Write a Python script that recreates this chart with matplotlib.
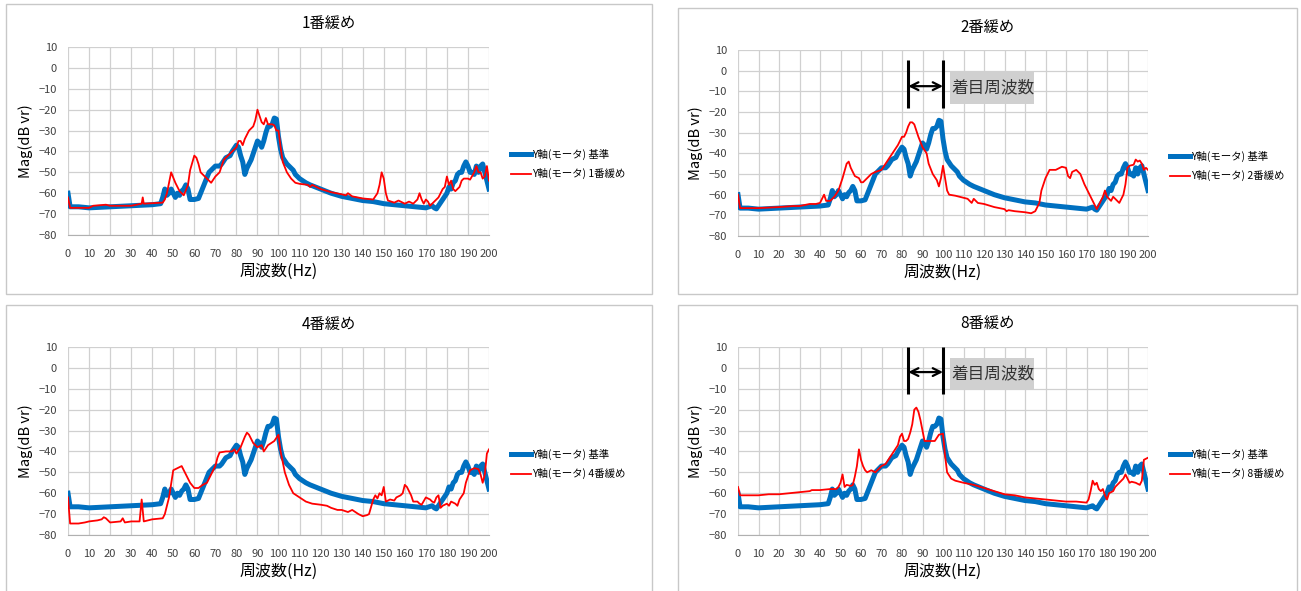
import matplotlib
matplotlib.use('Agg')
import matplotlib.pyplot as plt
from matplotlib.patches import Rectangle

plt.rcParams['font.family'] = ['Noto Sans CJK JP', 'DejaVu Sans']

# base line (same in every panel)
base_f = [0, 1, 5, 10, 20, 30, 40, 44, 45, 46, 47, 48, 49, 50, 51, 52, 53, 54, 55, 56, 57, 58, 60, 62, 63,
          65, 67, 68, 70, 72, 73, 75, 77, 78, 80, 81, 82, 83, 84, 85, 87, 88, 89, 90, 91, 92, 93, 94, 95, 96,
          97, 98, 99, 100, 101, 102, 104, 105, 106, 107, 108, 110, 113, 115, 120, 125, 130, 135, 140, 145,
          150, 155, 160, 165, 170, 173, 174, 175, 176, 178, 180, 181, 182, 183, 184, 185, 186, 187, 188, 189,
          190, 191, 192, 193, 194, 195, 196, 197, 198, 199, 200]
base_mag = [-60, -66.5, -66.5, -67, -66.5, -66, -65.5, -65, -62, -58, -61, -60, -58, -60, -62, -60, -61, -59, -58,
            -56, -58, -63, -63, -62.5, -60, -55, -50, -49, -47, -47, -46, -43, -42, -40, -37, -38, -42, -45, -51,
            -48, -44, -41, -38, -35, -36, -38, -35, -31, -28, -28, -27, -24, -24.5, -33, -39, -43, -46, -47, -48,
            -49, -51, -53, -55, -56, -58, -60, -61.5, -62.5, -63.5, -64, -65, -65.5, -66, -66.5, -67, -66, -67,
            -67.5, -66, -63, -60, -57, -58, -55, -54, -51, -50, -50, -47, -45, -47, -50, -50, -51, -47, -50, -47,
            -46, -50, -54, -58]

# 1番緩め
r1_f = [0, 1, 10, 12, 18, 20, 30, 35, 35.5, 36, 45, 46, 47, 49, 51, 53, 55, 57, 58, 60, 61, 62, 63, 65, 67, 68,
        70, 72, 73, 74, 76, 78, 79, 80, 81, 82, 83, 84, 85, 86, 88, 89, 90, 91, 92, 93, 94, 95, 97, 98, 99, 100,
        101, 102, 104, 106, 108, 110, 114, 115, 116, 120, 125, 130, 132, 133, 135, 140, 145, 147, 148, 149, 150,
        151, 152, 155, 157, 160, 162, 164, 166, 167, 168, 169, 170, 171, 172, 174, 176, 178, 179, 180, 181, 182,
        183, 184, 186, 187, 188, 190, 191, 193, 194, 195, 196, 197, 198, 199, 200]
r1_mag = [-62, -67, -67, -66, -65.5, -66, -66, -65, -62, -65, -64.5, -63, -60, -50, -55, -59, -61, -56, -49, -42,
          -43, -46, -50, -52, -54, -55, -52, -50, -47, -44, -42, -40, -39, -38, -35, -35, -37, -34, -32, -30, -28,
          -25, -20, -23, -26, -27, -24, -27, -27, -27.5, -30, -30, -38, -45, -50, -53, -55, -55.5, -56, -57, -56,
          -58, -59.5, -60.5, -61, -60, -61.5, -62.5, -63, -60, -56, -50, -53, -60, -63.5, -64.5, -63.5, -65, -64,
          -65, -63, -60, -63, -65, -63, -64, -66, -64, -62, -58, -57, -52, -56, -54, -58, -59, -57, -54, -53,
          -53, -53.5, -50, -47, -50, -50, -53, -52, -47, -54]

# 2番緩め
r2_f = [0, 1, 10, 20, 27, 30, 35, 38, 40, 41, 42, 43, 45, 47, 49, 51, 53, 54, 55, 57, 59, 60, 61, 63, 65, 67, 70,
        72, 74, 76, 78, 80, 81, 82, 83, 84, 85, 86, 88, 90, 92, 93, 95, 97, 98, 99, 100, 101, 102, 103, 106, 108,
        110, 112, 114, 115, 117, 120, 125, 130, 131, 132, 135, 140, 143, 145, 147, 148, 150, 152, 155, 157, 158,
        160, 161, 162, 163, 165, 167, 169, 171, 173, 175, 176, 178, 179, 180, 182, 183, 185, 186, 188, 189, 190,
        191, 193, 194, 195, 196, 197, 198, 199, 200]
r2_mag = [-60, -66.5, -66.5, -66, -65.5, -65.5, -64.5, -64.5, -64, -62, -60, -63, -63, -61, -58, -52, -45, -44, -47,
          -51, -52, -54, -54, -52, -50, -49, -48, -45, -42, -39, -36, -32, -32, -30, -27, -25, -25, -26, -32, -37,
          -40, -45, -50, -53, -56, -52, -46, -52, -58, -60, -60.5, -61, -61.5, -62, -64, -62, -64, -64.5, -66, -67,
          -68, -67.5, -68, -68.5, -69, -68, -64, -58, -52, -48, -48, -47, -46.5, -47, -51, -52, -49, -48, -50, -55,
          -59, -63, -67, -65, -61, -58, -61, -63, -61, -63, -64, -60, -55, -47, -46, -45.5, -43, -44, -43.5, -45,
          -48, -47, -48]

# 4番緩め
r4_f = [0, 1, 5, 8, 10, 14, 16, 17, 18, 20, 25, 26, 27, 30, 34, 35, 36, 40, 45, 46, 48, 50, 52, 54, 56, 58, 60, 62,
        64, 66, 68, 70, 71, 72, 75, 78, 79, 80, 82, 84, 85, 86, 88, 90, 92, 93, 95, 98, 100, 101, 103, 105, 107,
        110, 113, 116, 120, 123, 125, 128, 130, 133, 135, 138, 140, 142, 143, 145, 146, 147, 148, 149, 150, 151,
        153, 155, 156, 158, 159, 160, 161, 163, 164, 166, 167, 168, 170, 172, 173, 174, 175, 176, 177, 178, 180,
        181, 182, 184, 185, 186, 188, 189, 191, 193, 195, 196, 197, 198, 199, 200]
r4_mag = [-62, -74.5, -74.5, -74, -73.5, -73, -72.5, -71.5, -72, -74, -73.5, -72, -74, -73.5, -73.5, -63, -73.5,
          -72.5, -72, -70, -62, -49, -48, -47, -51, -55, -57.5, -57.5, -56, -55, -51, -47, -43, -40.5, -40, -40,
          -39, -41, -38, -33, -31, -32, -36, -38, -37, -40, -37, -35, -32, -40, -50, -56, -60, -62, -64, -65,
          -65.5, -66, -67, -68, -68, -69, -68, -70, -71, -70.5, -70, -63, -61, -62.5, -60, -61, -57, -64, -63,
          -63.5, -62, -61, -60, -56, -57, -61, -64, -64, -65, -65.5, -62, -63, -64, -64.5, -62, -61, -67, -66,
          -65, -66, -64, -65, -66, -63, -60, -55, -49, -48, -48.5, -51, -55, -51, -41, -39]

# 8番緩め
r8_f = [0, 1, 10, 15, 20, 25, 30, 35, 36, 40, 45, 48, 49, 50, 51, 52, 53, 55, 56, 57, 58, 59, 60, 61, 62, 63, 65,
        67, 70, 72, 74, 76, 78, 79, 80, 81, 82, 83, 84, 85, 86, 87, 88, 89, 90, 91, 92, 94, 96, 98, 100, 101, 102,
        104, 106, 110, 115, 120, 125, 130, 135, 140, 145, 150, 155, 160, 165, 170, 171, 172, 173, 174, 175, 176,
        177, 178, 179, 180, 181, 183, 184, 186, 188, 189, 190, 191, 192, 194, 195, 196, 197, 198, 199, 200]
r8_mag = [-57, -61, -61, -60.5, -60.5, -60, -59.5, -59, -58.5, -58.5, -58, -58, -57, -55, -51, -57, -56, -56.5, -56,
          -52, -47, -39, -44, -47, -49, -50, -49, -50, -47, -46, -43, -40, -37, -33, -31.5, -35, -35, -34, -31,
          -27, -20, -19, -21, -25, -30, -35, -35, -35, -35, -32, -31.5, -42, -50, -53, -54, -55, -56, -57.5, -59,
          -60.5, -61, -62, -62.5, -63, -63.5, -64, -64, -64.5, -63, -59, -54, -56, -55, -58, -59, -58, -61, -63,
          -60, -59, -57, -55, -53, -51, -53, -55, -54.5, -55, -55.5, -56, -54, -44, -43.5, -43]

titles = ['1番緩め', '2番緩め', '4番緩め', '8番緩め']
red_f = [r1_f, r2_f, r4_f, r8_f]
red_mag = [r1_mag, r2_mag, r4_mag, r8_mag]
base_label = 'Y軸(モータ) 基準'
red_labels = ['Y軸(モータ) 1番緩め', 'Y軸(モータ) 2番緩め', 'Y軸(モータ) 4番緩め', 'Y軸(モータ) 8番緩め']

W, H = 1301, 591
fig = plt.figure(figsize=(W / 100, H / 100), dpi=100)

# pixel boxes: frame (l, t, r, b), plot area (l, t, r, b), title y, legend y-centre
frames = [(6, 4, 652, 294), (678, 8, 1297, 294), (6, 305, 652, 595), (678, 305, 1297, 595)]
plots = [(68, 47, 489, 235), (738, 50, 1148, 236), (68, 347, 489, 535), (738, 347, 1148, 535)]
title_y = [23, 27, 324, 323]
leg_y = [164, 166, 464, 464]
note_panel = {1: (5, -18, -7.5, -0.5, -16.3), 3: (10, -12.7, -2, 4.7, -10.6)}

for i in range(4):
    fl, ft, fr, fb = frames[i]
    fig.patches.append(Rectangle((fl / W, 1 - fb / H), (fr - fl) / W, (fb - ft) / H,
                                 transform=fig.transFigure, fill=False, ec='#c8c8c8', lw=1.0))
    l, t, r, b = plots[i]
    ax = fig.add_axes([l / W, 1 - b / H, (r - l) / W, (b - t) / H])
    ax.plot(base_f, base_mag, color='#0070C0', lw=3.6, label=base_label, solid_joinstyle='round')
    ax.plot(red_f[i], red_mag[i], color='#FF0000', lw=1.3, label=red_labels[i])
    ax.set_xlim(0, 200)
    ax.set_ylim(-80, 10)
    ax.set_xticks(range(0, 201, 10))
    ax.set_yticks(range(-80, 11, 10))
    ax.grid(True, color='#d0d0d0', lw=0.9)
    ax.set_axisbelow(True)
    for s in ['top', 'right', 'left']:
        ax.spines[s].set_visible(False)
    ax.spines['bottom'].set_color('#b0b0b0')
    ax.tick_params(axis='both', labelsize=8, colors='#404040', length=0)
    ax.tick_params(axis='y', pad=8)
    ax.tick_params(axis='x', pad=10)
    ax.set_xlabel('周波数(Hz)', fontsize=11.5, labelpad=3)
    ax.set_ylabel('Mag(dB vr)', fontsize=10.5, labelpad=4)
    fig.text(((fl + fr) / 2) / W, 1 - title_y[i] / H, titles[i], ha='center', va='center', fontsize=11)
    leg = ax.legend(loc='center left', bbox_to_anchor=((r + 22 - l) / (r - l), (b - leg_y[i]) / (b - t)),
                    frameon=False, fontsize=7.5, handlelength=1.9, handletextpad=0.15,
                    borderpad=0, borderaxespad=0, labelspacing=0.8)
    if i in note_panel:
        top, bot, ay, bt, bb = note_panel[i]
        for xv in [83, 100]:
            ax.plot([xv, xv], [top, bot], color='black', lw=2.2, clip_on=False, solid_capstyle='butt')
        ax.annotate('', xy=(83, ay), xytext=(100, ay),
                    arrowprops=dict(arrowstyle='<->', color='black', lw=1.6, mutation_scale=14,
                                    shrinkA=0, shrinkB=0))
        ax.add_patch(Rectangle((103.5, bb), 41, bt - bb, fc='#d0d0d0', ec='none', zorder=3))
        ax.text(104, (bt + bb) / 2, '着目周波数', fontsize=12, color='#333333', va='center', ha='left', zorder=4)

fig.savefig('out.png', dpi=100)
